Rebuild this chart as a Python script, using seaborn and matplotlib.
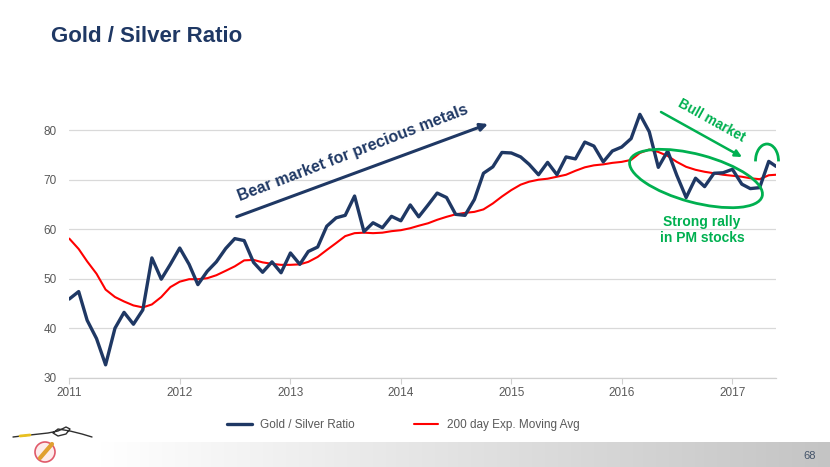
import numpy as np
import pandas as pd
import matplotlib
matplotlib.use("Agg")
import matplotlib.pyplot as plt
import matplotlib.dates as mdates
import matplotlib.transforms as mtransforms
from matplotlib.patches import Ellipse, Arc, Circle
from matplotlib.lines import Line2D
from matplotlib.colors import LinearSegmentedColormap
import seaborn as sns

# --- data (monthly) ---
dates = list(pd.date_range("2011-01-01", "2017-05-01", freq="MS")) + [pd.Timestamp("2017-05-25")]

gold_silver_ratio = [
    45.9, 47.4, 41.6, 37.9, 32.6, 40.0, 43.2, 40.8, 43.7, 54.2, 49.9, 52.9,   # 2011
    56.2, 52.9, 48.8, 51.5, 53.4, 56.1, 58.1, 57.7, 53.3, 51.3, 53.4, 51.2,   # 2012
    55.2, 52.9, 55.5, 56.4, 60.6, 62.3, 62.8, 66.7, 59.5, 61.3, 60.3, 62.6,   # 2013
    61.7, 64.9, 62.5, 64.9, 67.3, 66.4, 63.0, 62.8, 66.0, 71.3, 72.6, 75.5,   # 2014
    75.4, 74.6, 73.1, 71.0, 73.5, 71.0, 74.6, 74.2, 77.6, 76.8, 73.6, 75.8,   # 2015
    76.6, 78.3, 83.2, 79.7, 72.5, 75.8, 70.9, 66.4, 70.3, 68.6, 71.3, 71.4,   # 2016
    72.1, 69.1, 68.2, 68.4, 73.7, 72.7,                                       # 2017
]

ema_200 = [
    58.1, 56.0, 53.5, 51.0, 47.8, 46.3, 45.4, 44.6, 44.2, 44.8, 46.3, 48.3,
    49.4, 49.9, 49.9, 50.1, 50.7, 51.6, 52.5, 53.7, 53.8, 53.3, 53.0, 52.8,
    52.8, 52.9, 53.4, 54.4, 55.8, 57.2, 58.6, 59.2, 59.3, 59.2, 59.3, 59.6,
    59.8, 60.2, 60.7, 61.2, 61.9, 62.5, 63.0, 63.3, 63.5, 64.0, 65.2, 66.6,
    67.9, 69.0, 69.6, 70.0, 70.2, 70.6, 71.0, 71.8, 72.5, 72.9, 73.1, 73.4,
    73.6, 74.0, 75.4, 76.1, 75.6, 74.8, 73.6, 72.6, 72.0, 71.6, 71.3, 71.0,
    70.8, 70.6, 70.3, 70.1, 70.9, 71.0,
]

year_ticks = [pd.Timestamp(f"{y}-01-01") for y in range(2011, 2018)]
y_ticks = [30, 40, 50, 60, 70, 80]

NAVY = "#1f3864"
RED = "#ff0000"
GREEN = "#00b050"
GRAY_TXT = "#595959"

W, H, DPI = 830, 467, 100

sns.set_theme(style="white")
plt.rcParams["font.family"] = ["Liberation Sans", "DejaVu Sans"]

df = pd.DataFrame({"Date": dates, "Ratio": gold_silver_ratio, "EMA": ema_200})

fig = plt.figure(figsize=(W / DPI, H / DPI), dpi=DPI)
fig.patch.set_facecolor("white")

# pixel coordinates measured from the top-left of the slide
PX = mtransforms.Affine2D().scale(1, -1).translate(0, H).scale(1 / DPI) + fig.dpi_scale_trans

# grey gradient footer band
ax_bg = fig.add_axes([0, 0, 1, 25 / H], zorder=-5)
grad_cmap = LinearSegmentedColormap.from_list("band", [(0, "white"), (0.12, "white"), (1, "#c4c4c4")])
ax_bg.imshow(np.linspace(0, 1, 256)[None, :], aspect="auto", cmap=grad_cmap, extent=[0, 1, 0, 1])
ax_bg.axis("off")

ax = fig.add_axes([69.3 / W, 1 - 377.7 / H, (776 - 69.3) / W, (377.7 - 100.5) / H])

sns.lineplot(ax=ax, data=df, x="Date", y="EMA", color=RED, lw=1.5, label="200 day Exp. Moving Avg", zorder=3)
sns.lineplot(ax=ax, data=df, x="Date", y="Ratio", color=NAVY, lw=2.4, label="Gold / Silver Ratio", zorder=4)

ax.set_xlim(dates[0], dates[-1])
ax.set_ylim(30, 86)
ax.set_yticks(y_ticks)
ax.set_xticks(year_ticks)
ax.xaxis.set_major_formatter(mdates.DateFormatter("%Y"))
ax.set_xlabel("")
ax.set_ylabel("")
ax.grid(axis="y", color="#d9d9d9", lw=0.9)
ax.grid(axis="x", visible=False)
for s in ["top", "right", "left"]:
    ax.spines[s].set_visible(False)
ax.spines["bottom"].set_color("#d0d0d0")
ax.spines["bottom"].set_linewidth(0.9)
ax.tick_params(axis="x", colors=GRAY_TXT, labelsize=8.5, length=4, width=0.8, color="#d0d0d0", direction="out", pad=3, bottom=True)
ax.tick_params(axis="y", colors=GRAY_TXT, labelsize=8.5, length=0, pad=9)
ax.set_facecolor("none")

handles, labels = ax.get_legend_handles_labels()
ax.get_legend().remove()
order = [labels.index("Gold / Silver Ratio"), labels.index("200 day Exp. Moving Avg")]
leg = fig.legend([handles[i] for i in order], [labels[i] for i in order], loc="center",
                 bbox_to_anchor=(403 / W, 1 - 425 / H), ncol=2, frameon=False, fontsize=8.5,
                 handlelength=2.1, handletextpad=0.7, columnspacing=5.0)
for t in leg.get_texts():
    t.set_color(GRAY_TXT)

# title
fig.text(51, 37, "Gold / Silver Ratio", transform=PX, ha="left", va="center",
         fontsize=16, fontweight="bold", color=NAVY)

# bear market annotation
ax.annotate("", xy=(488, 124), xytext=(236.7, 216.7), xycoords=PX, textcoords=PX,
            arrowprops=dict(arrowstyle="-|>", color=NAVY, lw=2.2, mutation_scale=11,
                            shrinkA=0, shrinkB=0), annotation_clip=False)
fig.text(353, 153, "Bear market for precious metals", transform=PX, rotation=21,
         rotation_mode="anchor", ha="center", va="center", fontsize=11.5,
         fontweight="bold", color=NAVY)

# bull market annotation
ax.annotate("", xy=(742, 157), xytext=(661, 112), xycoords=PX, textcoords=PX,
            arrowprops=dict(arrowstyle="-|>", color=GREEN, lw=1.8, mutation_scale=10,
                            shrinkA=0, shrinkB=0), annotation_clip=False)
fig.text(711, 121, "Bull market", transform=PX, rotation=-29, rotation_mode="anchor",
         ha="center", va="center", fontsize=9.8, fontweight="bold", color=GREEN)

fig.add_artist(Ellipse((696, 178.5), width=137, height=48, angle=15, transform=PX,
                       fill=False, ec=GREEN, lw=2.0, zorder=6))
fig.add_artist(Arc((767, 161), width=23, height=34, theta1=178, theta2=362, transform=PX,
                   ec=GREEN, lw=2.0, zorder=6))
fig.text(702, 230, "Strong rally\nin PM stocks", transform=PX, ha="center", va="center",
         fontsize=10, fontweight="bold", color=GREEN, linespacing=1.15)

# page number
fig.text(810, 456, "68", transform=PX, ha="center", va="center", fontsize=8, color="#44546a")

# small logo, bottom left
fig.add_artist(Line2D([13, 30, 48, 58, 66, 70, 66, 58, 53, 58, 70, 82, 92],
                      [437, 435, 433, 431, 427, 429, 434, 436, 433, 429, 431, 434, 437],
                      transform=PX, color="#303030", lw=1.0))
fig.add_artist(Line2D([20, 30], [436, 435], transform=PX, color="#e8c020", lw=2.0))
fig.add_artist(Circle((45, 452), 10, transform=PX, ec="#e05a6a", fc="#fdecec", lw=1.2))
fig.add_artist(Line2D([40, 52], [458, 444], transform=PX, color="#e0a030", lw=3.0))

fig.savefig("out.png", dpi=DPI)
